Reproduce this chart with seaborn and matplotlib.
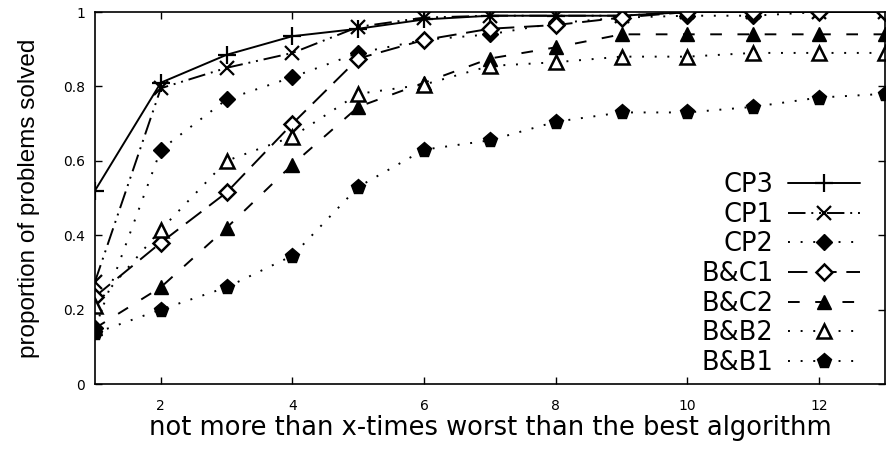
import matplotlib
matplotlib.use("Agg")
import matplotlib.pyplot as plt
import seaborn as sns
import numpy as np

# ---- data ----
x = [1, 2, 3, 4, 5, 6, 7, 8, 9, 10, 11, 12, 13]
cp3  = [0.52, 0.81, 0.885, 0.935, 0.955, 0.98, 0.99, 0.99, 0.99, 1.0, 1.0, 1.0, 1.0]
cp1  = [0.275, 0.795, 0.85, 0.89, 0.96, 0.985, 0.99, 0.99, 0.99, 1.0, 1.0, 1.0, 1.0]
cp2  = [0.15, 0.63, 0.765, 0.825, 0.89, 0.925, 0.94, 0.97, 0.985, 0.99, 0.99, 1.0, 1.0]
bc1  = [0.235, 0.38, 0.515, 0.70, 0.875, 0.925, 0.955, 0.965, 0.985, 1.0, 1.0, 1.0, 1.0]
bc2  = [0.15, 0.26, 0.42, 0.59, 0.745, 0.81, 0.875, 0.905, 0.94, 0.94, 0.94, 0.94, 0.94]
bb2  = [0.21, 0.415, 0.60, 0.665, 0.78, 0.805, 0.855, 0.865, 0.88, 0.88, 0.89, 0.89, 0.89]
bb1  = [0.137, 0.20, 0.26, 0.345, 0.53, 0.63, 0.655, 0.705, 0.73, 0.73, 0.745, 0.77, 0.78]
labels = ["CP3", "CP1", "CP2", "B&C1", "B&C2", "B&B2", "B&B1"]
xticks = [2, 4, 6, 8, 10, 12]
yticks = [0, 0.2, 0.4, 0.6, 0.8, 1]
yticklabels = ["0", "0.2", "0.4", "0.6", "0.8", "1"]
xlabel = "not more than x-times worst than the best algorithm"
ylabel = "proportion of problems solved"

sns.set_style("ticks")
plt.rcParams['font.family'] = ['DejaVu Sans']
plt.rcParams['text.color'] = 'black'
plt.rcParams['axes.labelcolor'] = 'black'
plt.rcParams['xtick.color'] = 'black'
plt.rcParams['ytick.color'] = 'black'

fig = plt.figure(figsize=(8.87, 4.5), dpi=100)
ax = fig.add_axes([95/887, 1-384/450, 790/887, 372/450])

series = [cp3, cp1, cp2, bc1, bc2, bb2, bb1]
styles = [
    dict(marker='+', ms=13, mew=1.6, mfc='black', linestyle='-'),
    dict(marker='x', ms=10, mew=1.6, mfc='black', linestyle=(0, (9, 3, 1, 3, 1, 3))),
    dict(marker='D', ms=8, mew=1.0, mfc='black', linestyle=(0, (1, 5.5))),
    dict(marker='D', ms=8, mew=1.8, mfc='white', linestyle=(0, (10, 5))),
    dict(marker='^', ms=10, mew=1.0, mfc='black', linestyle=(0, (6, 8))),
    dict(marker='^', ms=10, mew=1.8, mfc='white', linestyle=(0, (1, 5.5))),
    dict(marker='p', ms=11, mew=1.0, mfc='black', linestyle=(0, (1, 5.5))),
]
for ys, lab, st in zip(series, labels, styles):
    sns.lineplot(x=x, y=ys, ax=ax, label=lab, color='black', mec='black',
                 lw=1.4, dash_capstyle='butt', **st)

ax.set_xlim(1, 13)
ax.set_ylim(0, 1)
ax.set_xticks(xticks)
ax.set_xticklabels([str(t) for t in xticks])
ax.set_yticks(yticks)
ax.set_yticklabels(yticklabels)
ax.tick_params(direction='in', length=5, width=1.0, top=True, right=True,
               labelsize=10)
ax.tick_params(axis='x', pad=11)
ax.tick_params(axis='y', pad=7)
for sp in ax.spines.values():
    sp.set_linewidth(1.2)
    sp.set_color('black')

ax.set_xlabel(xlabel, fontsize=18.5, labelpad=1)
ax.set_ylabel(ylabel, fontsize=17.5, family=['Liberation Sans Narrow', 'Liberation Sans', 'DejaVu Sans'], labelpad=17)

leg = ax.legend(loc='lower right', bbox_to_anchor=(0.968, 0.022), frameon=False,
                markerfirst=False, fontsize=18.5, handlelength=2.8,
                handletextpad=0.55, labelspacing=0.14, borderpad=0, borderaxespad=0)

fig.savefig("out.png", dpi=100)
